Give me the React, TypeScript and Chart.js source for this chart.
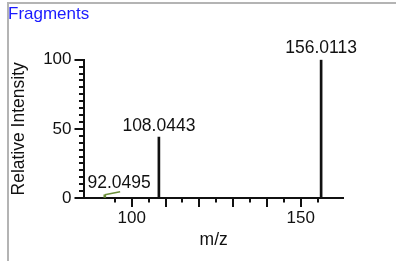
import React, { useEffect, useRef } from 'react';
import { Chart, registerables } from 'chart.js';

Chart.register(...registerables);

// ---- data ----
const mzValues = [92.0495, 108.0443, 156.0113];
const intensities = [2.3, 44, 100];
const peakLabels = ['92.0495', '108.0443', '156.0113'];
const xLabelTicks = [100, 150];
const yLabelTicks = [0, 50, 100];

const FONT = '"Liberation Sans", Arial, Helvetica, sans-serif';
const TEXT = '#111111';
const LEADER = '#6b8e3a';

const tickPlugin = {
  id: 'msTicks',
  afterDraw(chart: any) {
    const { ctx, chartArea } = chart;
    const xs = chart.scales.x;
    const ys = chart.scales.y;
    ctx.save();
    ctx.strokeStyle = '#111111';
    ctx.lineWidth = 2;
    ctx.beginPath();
    for (const t of xs.ticks) {
      const v = t.value;
      const major = Math.abs(v % 10) < 1e-6;
      const px = Math.round(xs.getPixelForValue(v));
      ctx.moveTo(px, chartArea.bottom);
      ctx.lineTo(px, chartArea.bottom + (major ? 9 : 4.5));
    }
    for (const t of ys.ticks) {
      const v = t.value;
      const major = Math.abs(v % 50) < 1e-6;
      const py = Math.round(ys.getPixelForValue(v));
      ctx.moveTo(chartArea.left - (major ? 9.5 : 5), py);
      ctx.lineTo(chartArea.left, py);
    }
    ctx.stroke();
    ctx.restore();
  },
};

const peakLabelPlugin = {
  id: 'peakLabels',
  afterDatasetsDraw(chart: any) {
    const { ctx, chartArea } = chart;
    const xs = chart.scales.x;
    const ys = chart.scales.y;
    ctx.save();
    ctx.font = `17.5px ${FONT}`;
    ctx.fillStyle = TEXT;
    ctx.textAlign = 'center';
    ctx.textBaseline = 'alphabetic';
    mzValues.forEach((mz, i) => {
      const px = xs.getPixelForValue(mz);
      const py = ys.getPixelForValue(intensities[i]);
      const text = peakLabels[i];
      const w = ctx.measureText(text).width;
      let cx = px;
      const baseline = py - 6.5;
      const minLeft = chartArea.left + 3.5;
      if (cx - w / 2 < minLeft) {
        cx = minLeft + w / 2;
        ctx.save();
        ctx.strokeStyle = LEADER;
        ctx.lineWidth = 1.5;
        ctx.beginPath();
        ctx.moveTo(px, py);
        ctx.lineTo(cx + 1, baseline + 3.5);
        ctx.stroke();
        ctx.restore();
      }
      ctx.fillText(text, cx, baseline);
    });
    ctx.restore();
  },
};

export default function App() {
  const ref = useRef<HTMLCanvasElement | null>(null);

  useEffect(() => {
    if (!ref.current) return;
    const chart = new Chart(ref.current, {
      type: 'bar',
      data: {
        datasets: [
          {
            label: 'Fragments',
            data: mzValues.map((x, i) => ({ x, y: intensities[i] })),
            backgroundColor: (c: any) => (c.raw && c.raw.y < 5 ? LEADER : '#111111'),
            borderWidth: 0,
            barThickness: 2,
            grouped: false,
          } as any,
        ],
      },
      options: {
        animation: false,
        responsive: false,
        devicePixelRatio: 1,
        layout: { padding: { left: 8, right: 52.6, top: 0, bottom: 0 } },
        plugins: {
          legend: { display: false },
          tooltip: { enabled: false },
          title: {
            display: true,
            text: 'Fragments',
            align: 'start',
            color: '#1a1aff',
            font: { family: FONT, size: 17, weight: 'normal' },
            padding: { top: 3.9, bottom: 35.4 },
          },
        },
        scales: {
          x: {
            type: 'linear',
            min: 85.9,
            max: 162.6,
            offset: false,
            afterFit: (s: any) => {
              s.height = 63;
            },
            afterBuildTicks: (s: any) => {
              s.ticks = s.ticks.filter((t: any) => Math.abs(t.value % 5) < 1e-6);
            },
            ticks: {
              stepSize: 5,
              autoSkip: false,
              maxRotation: 0,
              padding: 1.4,
              color: TEXT,
              font: { family: FONT, size: 17 },
              callback: (v: any) => (xLabelTicks.includes(Number(v)) ? String(v) : ''),
            },
            grid: {
              display: true,
              offset: false,
              drawOnChartArea: false,
              drawTicks: true,
              tickLength: 9,
              tickColor: 'rgba(0,0,0,0)',
              color: 'rgba(0,0,0,0)',
            },
            border: { display: true, color: '#111111', width: 2 },
            title: {
              display: true,
              text: 'm/z',
              color: TEXT,
              font: { family: FONT, size: 17.5 },
              padding: { top: 0, bottom: 10.5 },
            },
          },
          y: {
            type: 'linear',
            min: 0,
            max: 100,
            afterFit: (s: any) => {
              s.width = 76;
            },
            ticks: {
              stepSize: 5,
              autoSkip: false,
              padding: 3.5,
              color: TEXT,
              font: { family: FONT, size: 17 },
              callback: (v: any) => (yLabelTicks.includes(Number(v)) ? String(v) : ''),
            },
            grid: {
              display: true,
              drawOnChartArea: false,
              drawTicks: true,
              tickLength: 9,
              tickColor: 'rgba(0,0,0,0)',
              color: 'rgba(0,0,0,0)',
            },
            border: { display: true, color: '#111111', width: 2 },
            title: {
              display: true,
              text: 'Relative Intensity',
              color: TEXT,
              font: { family: FONT, size: 17.5 },
              padding: { top: 0.5, bottom: 0 },
            },
          },
        },
      },
      plugins: [tickPlugin, peakLabelPlugin],
    } as any);
    return () => chart.destroy();
  }, []);

  return (
    <div
      style={{
        position: 'fixed',
        left: 0,
        top: 0,
        width: 396,
        height: 261,
        background: '#ffffff',
        overflow: 'hidden',
      }}
    >
      <div
        style={{
          position: 'absolute',
          left: 7,
          top: 2,
          width: 396,
          height: 270,
          borderTop: '2px solid #b4b4b4',
          borderLeft: '2px solid #b4b4b4',
          boxSizing: 'border-box',
        }}
      />
      <canvas
        ref={ref}
        width={396}
        height={261}
        style={{ position: 'absolute', left: 0, top: 0, width: 396, height: 261 }}
      />
    </div>
  );
}
